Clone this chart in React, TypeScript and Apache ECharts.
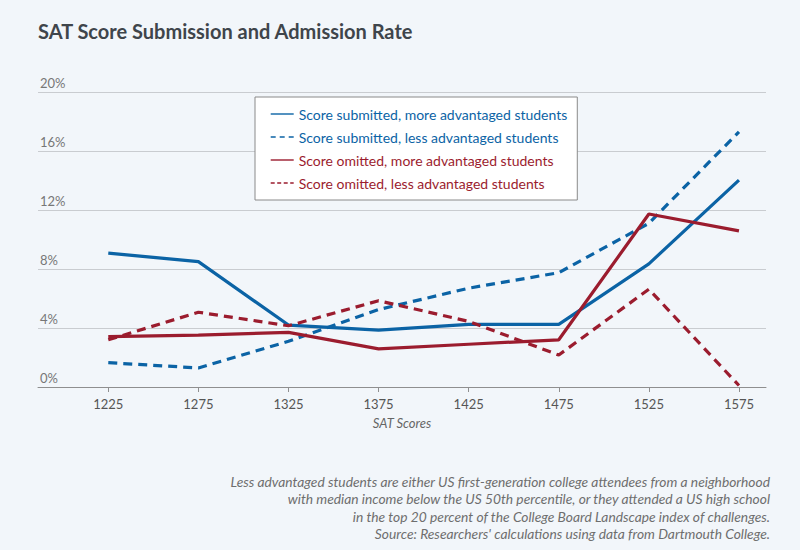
import React, { useEffect, useRef } from "react";
import * as echarts from "echarts";

const scores = [1225, 1275, 1325, 1375, 1425, 1475, 1525, 1575];
const submittedMore = [9.08, 8.5, 4.2, 3.86, 4.25, 4.25, 8.35, 14.03];
const submittedLess = [1.65, 1.29, 3.1, 5.25, 6.7, 7.75, 11.1, 17.3];
const omittedMore = [3.41, 3.52, 3.7, 2.58, 2.9, 3.2, 11.73, 10.58];
const omittedLess = [3.2, 5.07, 4.15, 5.85, 4.45, 2.17, 6.63, 0.1];
const yTicks = [0, 4, 8, 12, 16, 20];
const seriesNames = [
  "Score submitted, more advantaged students",
  "Score submitted, less advantaged students",
  "Score omitted, more advantaged students",
  "Score omitted, less advantaged students",
];
const titleText = "SAT Score Submission and Admission Rate";
const xAxisName = "SAT Scores";
const footnote = [
  "Less advantaged students are either US first-generation college attendees from a neighborhood",
  "with median income below the US 50th percentile, or they attended a US high school",
  "in the top 20 percent of the College Board Landscape index of challenges.",
  "Source: Researchers' calculations using data from Dartmouth College.",
];

const BLUE = "#0b63a5";
const RED = "#9b1c2e";
const FONT = "Lato, 'Noto Sans', sans-serif";

export default function App() {
  const ref = useRef<HTMLDivElement>(null);
  useEffect(() => {
    if (!ref.current) return;
    const chart = echarts.init(ref.current, null, { renderer: "svg" });
    const pairs = (vals: number[]) => scores.map((s, i) => [s, vals[i]]);
    const mk = (name: string, vals: number[], color: string, dashed: boolean) => ({
      name,
      type: "line",
      data: pairs(vals),
      symbol: "none",
      lineStyle: { color, width: 3.2, type: dashed ? [9, 6] : "solid" },
      itemStyle: { color },
    });
    const legendItem = (name: string, color: string, type: any) => ({
      name,
      textStyle: { color },
      itemStyle: { opacity: 0 },
      lineStyle: { width: 1.4, type, color },
    });
    chart.setOption({
      animation: false,
      backgroundColor: "#f2f6fa",
      textStyle: { fontFamily: FONT },
      title: {
        text: titleText,
        left: 33,
        top: 16,
        textStyle: { fontSize: 20, fontWeight: "bold", color: "#3f454b", fontFamily: FONT },
      },
      grid: { left: 38, right: 34, top: 92, bottom: 163, containLabel: false },
      legend: {
        orient: "vertical",
        left: 255,
        top: 97,
        padding: [10, 10, 10, 15],
        itemGap: 9,
        itemWidth: 23,
        itemHeight: 14,
        itemTextGap: 13,
        backgroundColor: "#ffffff",
        borderColor: "#8a8a8a",
        borderWidth: 1,
        textStyle: { fontSize: 14, fontFamily: FONT },
        data: [
          legendItem(seriesNames[0], BLUE, "solid"),
          legendItem(seriesNames[1], BLUE, [5, 4]),
          legendItem(seriesNames[2], RED, "solid"),
          legendItem(seriesNames[3], RED, [4, 2.5]),
        ],
      },
      xAxis: {
        type: "value",
        min: 1186,
        max: 1590,
        name: xAxisName,
        nameLocation: "middle",
        nameGap: 29,
        nameTextStyle: { fontStyle: "italic", fontSize: 13, color: "#666", fontFamily: FONT },
        axisLine: { show: true, lineStyle: { color: "#8f8f8f", width: 1 } },
        axisTick: { show: true, customValues: scores, length: 5, lineStyle: { color: "#8f8f8f" } },
        axisLabel: {
          customValues: scores,
          fontSize: 13,
          color: "#555",
          margin: 10,
          fontFamily: FONT,
          formatter: (v: number) => String(v),
        },
        splitLine: { show: false },
      },
      yAxis: {
        type: "value",
        min: 0,
        max: 20,
        interval: 4,
        axisLine: { show: false },
        axisTick: { show: false },
        axisLabel: {
          inside: true,
          verticalAlign: "bottom",
          margin: 2,
          padding: [0, 0, 3, 0],
          fontSize: 13,
          color: "#777",
          fontFamily: FONT,
          formatter: (v: number) => (yTicks.includes(v) ? v + "%" : ""),
        },
        splitLine: { show: true, lineStyle: { color: "#c9ccd0", width: 1 } },
      },
      graphic: [
        {
          type: "text",
          right: 30,
          top: 473,
          style: {
            text: footnote.join("\n"),
            textAlign: "right",
            fontSize: 13.8,
            lineHeight: 17.2,
            fontStyle: "italic",
            fill: "#6e6e6e",
            fontFamily: FONT,
          },
        },
      ],
      series: [
        mk(seriesNames[0], submittedMore, BLUE, false),
        mk(seriesNames[1], submittedLess, BLUE, true),
        mk(seriesNames[2], omittedMore, RED, false),
        mk(seriesNames[3], omittedLess, RED, true),
      ],
    });
    return () => chart.dispose();
  }, []);
  return (
    <div
      ref={ref}
      style={{ position: "absolute", left: 0, top: 0, width: 800, height: 550 }}
    />
  );
}
